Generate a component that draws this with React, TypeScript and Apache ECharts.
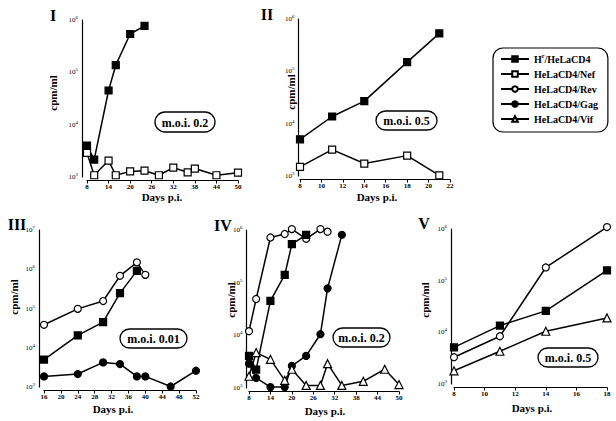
import React, { useEffect, useRef } from "react";
import * as echarts from "echarts";

const FONT = '"Liberation Serif", "Times New Roman", serif';

const NAME_HR = "Hr/HeLaCD4";
const NAME_NEF = "HeLaCD4/Nef";
const NAME_REV = "HeLaCD4/Rev";
const NAME_GAG = "HeLaCD4/Gag";
const NAME_VIF = "HeLaCD4/Vif";
const legendNames = [NAME_HR, NAME_NEF, NAME_REV, NAME_GAG, NAME_VIF];

// Panel I (m.o.i. 0.2)
const p1DaysHr = [8, 10, 14, 16, 20, 24];
const p1Hr = [4000, 2150, 45000, 137000, 540000, 770000];
const p1DaysNef = [8, 10, 14, 16, 20, 24, 28, 32, 36, 38, 44, 50];
const p1Nef = [2880, 1080, 2060, 1080, 1280, 1320, 1080, 1510, 1230, 1450, 1080, 1210];

// Panel II (m.o.i. 0.5)
const p2Days = [8, 11, 14, 18, 21];
const p2Hr = [5000, 13700, 27000, 150000, 530000];
const p2Nef = [1490, 3200, 1730, 2450, 1030];

// Panel III (m.o.i. 0.01)
const p3DaysRev = [16, 24, 30, 34, 38, 40];
const p3Rev = [38500, 98000, 155000, 680000, 1500000, 720000];
const p3DaysHr = [16, 24, 30, 34, 38];
const p3Hr = [5000, 20600, 45000, 246000, 910000];
const p3DaysGag = [16, 24, 30, 34, 38, 40, 46, 52];
const p3Gag = [1860, 2140, 4230, 3850, 1860, 1860, 1030, 2600];

// Panel IV (m.o.i. 0.2)
const p4DaysRev = [8, 10, 14, 18, 20, 24, 28, 30];
const p4Rev = [12000, 49000, 720000, 840000, 1040000, 680000, 1040000, 930000];
const p4DaysHr = [8, 10, 14, 18, 20, 24];
const p4Hr = [4070, 2240, 45000, 140000, 540000, 810000];
const p4DaysGag = [8, 10, 14, 18, 20, 24, 28, 30, 34];
const p4Gag = [2900, 1550, 1040, 1040, 2630, 4070, 10500, 78000, 810000];
const p4DaysVif = [8, 10, 14, 18, 20, 24, 28, 30, 34, 40, 46, 50];
const p4Vif = [1670, 4700, 3500, 1400, 2270, 1120, 1120, 2900, 1120, 1340, 2270, 1160];

// Panel V (m.o.i. 0.5)
const p5Days = [8, 11, 14, 18];
const p5Hr = [5100, 13500, 26000, 158000];
const p5Rev = [3300, 8400, 180000, 1090000];
const p5Vif = [1800, 4300, 10500, 19000];

// Axis tick values
const ticks8to50 = [8, 14, 20, 26, 32, 38, 44, 50];

const panelTitles = ["I", "II", "III", "IV", "V"];
const moiLabels = ["m.o.i. 0.2", "m.o.i. 0.5", "m.o.i. 0.01", "m.o.i. 0.2", "m.o.i. 0.5"];

const markerStyle: Record<string, { symbol: string; fill: string }> = {
  [NAME_HR]: { symbol: "rect", fill: "#000" },
  [NAME_NEF]: { symbol: "rect", fill: "#fff" },
  [NAME_REV]: { symbol: "circle", fill: "#fff" },
  [NAME_GAG]: { symbol: "circle", fill: "#000" },
  [NAME_VIF]: { symbol: "triangle", fill: "#fff" },
};

function mkSeries(name: string, days: number[], vals: number[], idx: number) {
  const m = markerStyle[name];
  return {
    type: "line",
    name,
    xAxisIndex: idx,
    yAxisIndex: idx,
    data: days.map((d, i) => [d, vals[i]]),
    symbol: m.symbol,
    symbolSize: m.symbol === "triangle" ? 8 : 7,
    showAllSymbol: true,
    clip: false,
    lineStyle: { color: "#000", width: 1.5 },
    itemStyle: { color: m.fill, borderColor: "#000", borderWidth: 1.2 },
    emphasis: { disabled: true },
  };
}

const grids = [
  { left: 87, top: 20, width: 151, height: 157 },
  { left: 300, top: 19, width: 150, height: 157 },
  { left: 44, top: 230, width: 152, height: 157 },
  { left: 249, top: 230, width: 150, height: 158 },
  { left: 454, top: 229, width: 153, height: 155 },
];

const yOffsets = [5, 1.5, 5, 2.5, 3];

function xAx(idx: number, min: number, max: number, interval?: number, custom?: number[]) {
  const o: any = {
    type: "value",
    gridIndex: idx,
    min,
    max,
    offset: 3.5,
    axisLine: { show: true, onZero: false, lineStyle: { color: "#000", width: 1.2 } },
    axisTick: { show: true, length: 3, lineStyle: { color: "#000", width: 1 } },
    axisLabel: {
      fontFamily: FONT,
      fontWeight: "bold",
      fontSize: 7,
      color: "#000",
      margin: 3,
    },
    splitLine: { show: false },
  };
  if (interval) o.interval = interval;
  if (custom) {
    o.axisLabel.customValues = custom;
    o.axisTick.customValues = custom;
  }
  return o;
}

function yAx(idx: number, max: number) {
  return {
    type: "log",
    logBase: 10,
    gridIndex: idx,
    min: 1000,
    max,
    offset: yOffsets[idx],
    axisLine: { show: true, onZero: false, lineStyle: { color: "#000", width: 1.2 } },
    axisTick: { show: false },
    minorTick: { show: false },
    splitLine: { show: false },
    axisLabel: {
      margin: 4,
      color: "#000",
      fontFamily: FONT,
      fontSize: 7,
      formatter: (v: number) => `10{s|${Math.round(Math.log10(v))}}`,
      rich: {
        s: { fontSize: 5, fontFamily: FONT, color: "#000", padding: [0, 0, 5, 0] },
      },
    },
  };
}

const titlePos = [
  [53, 15, 16],
  [267, 14, 16],
  [17, 224, 16],
  [223, 225, 16],
  [424, 223, 16],
];
const cpmPos = [
  [53, 93],
  [291, 92],
  [14, 297],
  [231, 300],
  [425, 300],
];
const daysPos = [
  [162, 197],
  [377, 197],
  [113, 409],
  [325, 411],
  [532, 408],
];
const moiBox = [
  [155, 112, 60, 20],
  [376, 111, 61, 19],
  [120, 329, 67, 19],
  [333, 328, 57, 19],
  [538, 348, 60, 19],
];

function buildGraphics() {
  const g: any[] = [];
  for (let i = 0; i < 5; i++) {
    g.push({
      type: "text",
      x: titlePos[i][0],
      y: titlePos[i][1],
      style: {
        text: panelTitles[i],
        font: `bold ${titlePos[i][2]}px ${FONT}`,
        fill: "#000",
        align: "center",
        verticalAlign: "middle",
      },
    });
    g.push({
      type: "text",
      x: cpmPos[i][0],
      y: cpmPos[i][1],
      rotation: Math.PI / 2,
      style: {
        text: "cpm/ml",
        font: `bold 11px ${FONT}`,
        fill: "#000",
        align: "center",
        verticalAlign: "middle",
      },
    });
    g.push({
      type: "text",
      x: daysPos[i][0],
      y: daysPos[i][1],
      style: {
        text: "Days p.i.",
        font: `bold 11px ${FONT}`,
        fill: "#000",
        align: "center",
        verticalAlign: "middle",
      },
    });
    const [bx, by, bw, bh] = moiBox[i];
    g.push({
      type: "rect",
      shape: { x: bx, y: by, width: bw, height: bh, r: bh / 2 },
      style: { fill: "#fff", stroke: "#000", lineWidth: 1.3 },
    });
    g.push({
      type: "text",
      x: bx + bw / 2,
      y: by + bh / 2 + 0.5,
      style: {
        text: moiLabels[i],
        font: `bold 12px ${FONT}`,
        fill: "#000",
        align: "center",
        verticalAlign: "middle",
      },
    });
  }
  return g;
}

export default function App() {
  const ref = useRef<HTMLDivElement>(null);
  useEffect(() => {
    if (!ref.current) return;
    document.body.style.margin = "0";
    const chart = echarts.init(ref.current, null, { renderer: "svg" });
    const series = [
      mkSeries(NAME_HR, p1DaysHr, p1Hr, 0),
      mkSeries(NAME_NEF, p1DaysNef, p1Nef, 0),
      mkSeries(NAME_HR, p2Days, p2Hr, 1),
      mkSeries(NAME_NEF, p2Days, p2Nef, 1),
      mkSeries(NAME_REV, p3DaysRev, p3Rev, 2),
      mkSeries(NAME_HR, p3DaysHr, p3Hr, 2),
      mkSeries(NAME_GAG, p3DaysGag, p3Gag, 2),
      mkSeries(NAME_REV, p4DaysRev, p4Rev, 3),
      mkSeries(NAME_HR, p4DaysHr, p4Hr, 3),
      mkSeries(NAME_GAG, p4DaysGag, p4Gag, 3),
      mkSeries(NAME_VIF, p4DaysVif, p4Vif, 3),
      mkSeries(NAME_HR, p5Days, p5Hr, 4),
      mkSeries(NAME_REV, p5Days, p5Rev, 4),
      mkSeries(NAME_VIF, p5Days, p5Vif, 4),
    ];
    chart.setOption({
      animation: false,
      backgroundColor: "#fff",
      grid: grids.map((g) => ({ ...g, containLabel: false })),
      xAxis: [
        xAx(0, 8, 50, undefined, ticks8to50),
        xAx(1, 8, 22, 2),
        xAx(2, 16, 52, 4),
        xAx(3, 8, 50, undefined, ticks8to50),
        xAx(4, 8, 18, 2),
      ],
      yAxis: [yAx(0, 1e6), yAx(1, 1e6), yAx(2, 1e7), yAx(3, 1e6), yAx(4, 1e6)],
      legend: {
        data: legendNames,
        orient: "vertical",
        left: 493,
        top: 48,
        borderColor: "#000",
        borderWidth: 1.2,
        borderRadius: 10,
        padding: [5, 10, 8, 7],
        itemGap: 5,
        itemWidth: 28,
        itemHeight: 7,
        selectedMode: false,
        formatter: (name: string) => (name === NAME_HR ? "H{sup|r}/HeLaCD4" : name),
        textStyle: {
          fontFamily: FONT,
          fontWeight: "bold",
          fontSize: 10,
          color: "#000",
          rich: {
            sup: { fontFamily: FONT, fontWeight: "bold", fontSize: 6, color: "#000", padding: [0, 0, 6, 0] },
          },
        },
      },
      graphic: buildGraphics(),
      series,
    });
    return () => chart.dispose();
  }, []);
  return <div ref={ref} style={{ width: 616, height: 421 }} />;
}
